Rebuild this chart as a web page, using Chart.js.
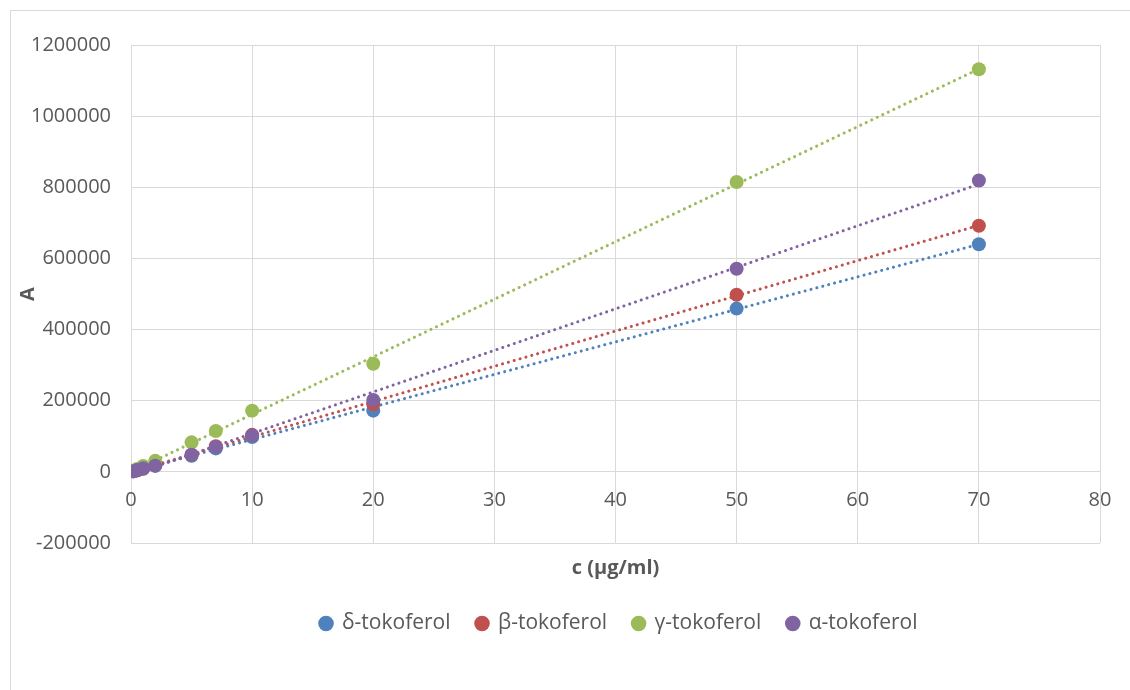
<!DOCTYPE html>
<html>
<head>
<meta charset="utf-8">
<script src="https://cdn.jsdelivr.net/npm/chart.js@4/dist/chart.umd.min.js"></script>
<style>
    html, body { margin: 0; padding: 0; background: #fff; overflow: hidden; }
    #frame { position: absolute; left: 10px; top: 10px; width: 1200px; height: 800px; border: 1px solid #d9d9d9; }
    #wrap { position: absolute; left: 0; top: 0; width: 1130px; height: 690px; }
</style>
</head>
<body>
<div id="frame"></div>
<div id="wrap"><canvas id="calChart" width="1130" height="690"></canvas></div>
<script>
// concentrations (µg/ml) and peak areas
const concentrations = [0.2, 0.5, 1, 2, 5, 7, 10, 20, 50, 70];
const deltaValues = [1500, 4000, 8500, 17000, 45000, 66000, 98000, 172000, 459000, 640000];
const betaValues = [1700, 4500, 9500, 18500, 48000, 72000, 104000, 190000, 498000, 692000];
const gammaValues = [3000, 8000, 16500, 31000, 83000, 115000, 172000, 304000, 815000, 1132000];
const alphaValues = [1800, 5000, 10000, 17500, 48000, 70000, 102000, 202000, 571000, 819000];

const seriesNames = ['δ-tokoferol', 'β-tokoferol', 'γ-tokoferol', 'α-tokoferol'];
const seriesColors = ['#4f81bd', '#c0504d', '#9bbb59', '#8064a2'];
const seriesValues = [deltaValues, betaValues, gammaValues, alphaValues];

const textColor = '#595959';
const gridColor = '#d9d9d9';
const fontFamily = "'Open Sans', 'Noto Sans', sans-serif";

// least squares line, like an Excel linear trendline
function trendline(xs, ys) {
    const n = xs.length;
    let sx = 0, sy = 0, sxx = 0, sxy = 0;
    for (let i = 0; i < n; i++) {
        sx += xs[i]; sy += ys[i];
        sxx += xs[i] * xs[i]; sxy += xs[i] * ys[i];
    }
    const slope = (n * sxy - sx * sy) / (n * sxx - sx * sx);
    const intercept = (sy - slope * sx) / n;
    const x0 = Math.min(...xs), x1 = Math.max(...xs);
    return [{ x: x0, y: intercept + slope * x0 }, { x: x1, y: intercept + slope * x1 }];
}

const datasets = [];
seriesValues.forEach((vals, i) => {
    datasets.push({
        label: seriesNames[i],
        data: concentrations.map((c, j) => ({ x: c, y: vals[j] })),
        backgroundColor: seriesColors[i],
        borderColor: seriesColors[i],
        pointRadius: 7,
        pointHoverRadius: 7,
        pointBorderWidth: 0,
        showLine: false,
        order: 4 - i
    });
});
seriesValues.forEach((vals, i) => {
    datasets.push({
        label: 'trend',
        data: trendline(concentrations, vals),
        borderColor: seriesColors[i],
        borderWidth: 3,
        borderDash: [0.1, 6],
        borderCapStyle: 'round',
        pointRadius: 0,
        showLine: true,
        fill: false,
        order: 20 - i
    });
});

// Excel puts the legend a bit right of the canvas centre
const legendShift = {
    id: 'legendShift',
    afterLayout(chart) {
        if (chart.legend) {
            chart.legend.left += 64;
            chart.legend.right += 64;
        }
    }
};

const ctx = document.getElementById('calChart').getContext('2d');
new Chart(ctx, {
    type: 'scatter',
    data: { datasets: datasets },
    plugins: [legendShift],
    options: {
        responsive: false,
        animation: false,
        devicePixelRatio: 1,
        layout: { padding: { left: 10, top: 45, right: 30, bottom: 46 } },
        scales: {
            x: {
                type: 'linear',
                position: 'bottom',
                min: 0,
                max: 80,
                ticks: { display: false, stepSize: 10 },
                grid: { color: gridColor, lineWidth: 1, drawTicks: false },
                border: { display: false },
                title: {
                    display: true,
                    text: 'c (µg/ml)',
                    color: textColor,
                    font: { family: fontFamily, size: 20, weight: 'bold' },
                    padding: { top: 0, bottom: 7 }
                },
                afterFit: (scale) => { scale.height = 44; }
            },
            x2: {
                type: 'linear',
                axis: 'x',
                position: { y: 0 },
                min: 0,
                max: 80,
                ticks: {
                    stepSize: 10,
                    color: textColor,
                    padding: 16,
                    font: { family: fontFamily, size: 20 }
                },
                grid: { display: false, drawTicks: false },
                border: { display: false }
            },
            y: {
                type: 'linear',
                min: -200000,
                max: 1200000,
                ticks: {
                    stepSize: 200000,
                    color: textColor,
                    padding: 20,
                    font: { family: fontFamily, size: 20 },
                    callback: (v) => v.toString()
                },
                grid: { color: gridColor, lineWidth: 1, drawTicks: false },
                border: { display: false },
                title: {
                    display: true,
                    text: 'A',
                    color: textColor,
                    font: { family: fontFamily, size: 20, weight: 'bold' },
                    padding: { top: 6, bottom: 0 }
                },
                afterFit: (scale) => { scale.width = 121; }
            }
        },
        plugins: {
            legend: {
                position: 'bottom',
                labels: {
                    color: textColor,
                    font: { family: fontFamily, size: 21 },
                    usePointStyle: true,
                    pointStyle: 'circle',
                    boxWidth: 11,
                    boxHeight: 11,
                    padding: 26,
                    filter: (item) => item.text !== 'trend',
                    sort: (a, b) => a.datasetIndex - b.datasetIndex
                }
            },
            tooltip: { enabled: false }
        }
    }
});
</script>
</body>
</html>
